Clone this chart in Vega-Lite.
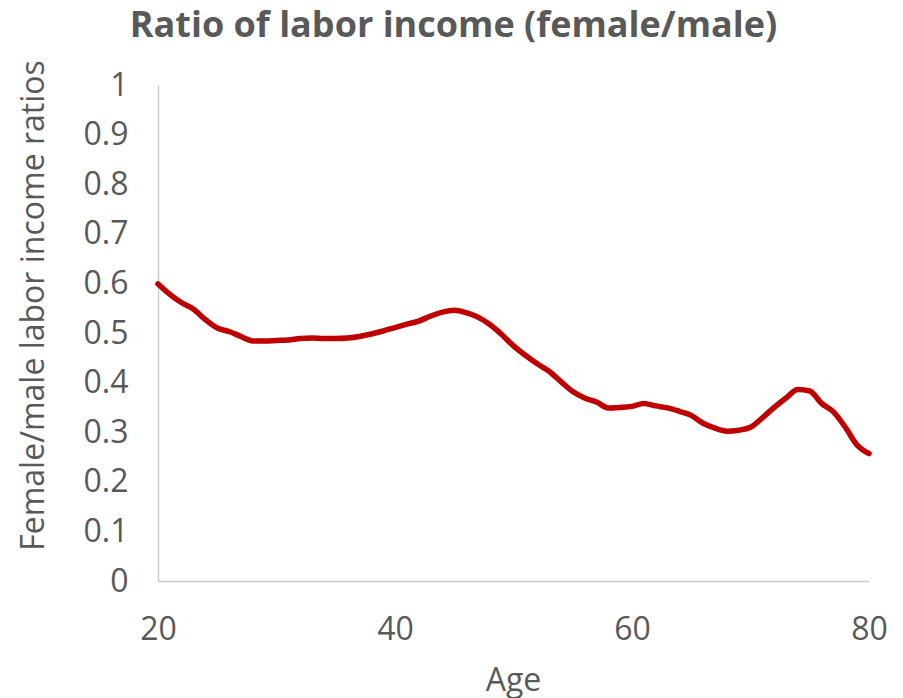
{
  "$schema": "https://vega.github.io/schema/vega-lite/v6.json",
  "width": 711,
  "height": 496,
  "autosize": "none",
  "padding": {"left": 158, "top": 85, "right": 34, "bottom": 117},
  "background": "white",
  "config": {
    "view": {"stroke": null},
    "font": "Open Sans"
  },
  "title": {
    "text": "Ratio of labor income (female/male)",
    "anchor": "middle",
    "frame": "group",
    "dx": -60,
    "baseline": "alphabetic",
    "offset": -13,
    "font": "Open Sans",
    "fontSize": 36,
    "fontWeight": "bold",
    "color": "#595959"
  },
  "data": {
    "values": [
      {"age": 20, "ratio": 0.599}, {"age": 21, "ratio": 0.578}, {"age": 22, "ratio": 0.561},
      {"age": 23, "ratio": 0.548}, {"age": 24, "ratio": 0.527}, {"age": 25, "ratio": 0.510},
      {"age": 26, "ratio": 0.503}, {"age": 27, "ratio": 0.493}, {"age": 28, "ratio": 0.484},
      {"age": 29, "ratio": 0.484}, {"age": 30, "ratio": 0.485}, {"age": 31, "ratio": 0.486},
      {"age": 32, "ratio": 0.489}, {"age": 33, "ratio": 0.490}, {"age": 34, "ratio": 0.489},
      {"age": 35, "ratio": 0.489}, {"age": 36, "ratio": 0.490}, {"age": 37, "ratio": 0.493},
      {"age": 38, "ratio": 0.498}, {"age": 39, "ratio": 0.504}, {"age": 40, "ratio": 0.511},
      {"age": 41, "ratio": 0.518}, {"age": 42, "ratio": 0.524}, {"age": 43, "ratio": 0.534},
      {"age": 44, "ratio": 0.542}, {"age": 45, "ratio": 0.546}, {"age": 46, "ratio": 0.541},
      {"age": 47, "ratio": 0.532}, {"age": 48, "ratio": 0.517}, {"age": 49, "ratio": 0.497},
      {"age": 50, "ratio": 0.474}, {"age": 51, "ratio": 0.455}, {"age": 52, "ratio": 0.438},
      {"age": 53, "ratio": 0.423}, {"age": 54, "ratio": 0.402}, {"age": 55, "ratio": 0.382},
      {"age": 56, "ratio": 0.369}, {"age": 57, "ratio": 0.361}, {"age": 58, "ratio": 0.349},
      {"age": 59, "ratio": 0.350}, {"age": 60, "ratio": 0.352}, {"age": 61, "ratio": 0.358},
      {"age": 62, "ratio": 0.353}, {"age": 63, "ratio": 0.349}, {"age": 64, "ratio": 0.342},
      {"age": 65, "ratio": 0.334}, {"age": 66, "ratio": 0.318}, {"age": 67, "ratio": 0.308},
      {"age": 68, "ratio": 0.302}, {"age": 69, "ratio": 0.304}, {"age": 70, "ratio": 0.310},
      {"age": 71, "ratio": 0.329}, {"age": 72, "ratio": 0.350}, {"age": 73, "ratio": 0.369},
      {"age": 74, "ratio": 0.386}, {"age": 75, "ratio": 0.383}, {"age": 76, "ratio": 0.358},
      {"age": 77, "ratio": 0.341}, {"age": 78, "ratio": 0.310}, {"age": 79, "ratio": 0.274},
      {"age": 80, "ratio": 0.257}
    ]
  },
  "mark": {"type": "line", "color": "#c00000", "strokeWidth": 5.5, "interpolate": "monotone", "strokeCap": "round", "strokeJoin": "round"},
  "encoding": {
    "x": {
      "field": "age",
      "type": "quantitative",
      "scale": {"domain": [20, 80], "nice": false, "zero": false},
      "axis": {
        "title": "Age",
        "values": [20, 40, 60, 80],
        "grid": false,
        "ticks": false,
        "tickSize": 0,
        "domainColor": "#c9c9c9",
        "domainWidth": 1.5,
        "labelFont": "Open Sans",
        "labelFontSize": 32,
        "labelColor": "#595959",
        "labelBaseline": "alphabetic",
        "labelPadding": 58,
        "labelFlush": false,
        "labelOverlap": false,
        "titleFont": "Open Sans",
        "titleFontSize": 32,
        "titleFontWeight": "normal",
        "titleColor": "#595959",
        "titleBaseline": "alphabetic",
        "titleAlign": "center",
        "titleX": 355,
        "titleY": 109
      }
    },
    "y": {
      "field": "ratio",
      "type": "quantitative",
      "scale": {"domain": [0, 1], "nice": false},
      "axis": {
        "title": "Female/male labor income ratios",
        "values": [0, 0.1, 0.2, 0.3, 0.4, 0.5, 0.6, 0.7, 0.8, 0.9, 1],
        "labelExpr": "datum.value == 0 ? '0' : datum.value == 1 ? '1' : format(datum.value, '.1f')",
        "grid": false,
        "ticks": false,
        "tickSize": 0,
        "domainColor": "#c9c9c9",
        "domainWidth": 1.5,
        "labelFont": "Open Sans",
        "labelFontSize": 32,
        "labelColor": "#595959",
        "labelBaseline": "middle",
        "labelAlign": "right",
        "labelPadding": 30,
        "labelFlush": false,
        "labelOverlap": false,
        "titleFont": "Open Sans",
        "titleFontSize": 32,
        "titleFontWeight": "normal",
        "titleColor": "#595959",
        "titleAngle": -90,
        "titleBaseline": "alphabetic",
        "titleAlign": "center",
        "titleX": -115,
        "titleY": 220
      }
    }
  }
}
